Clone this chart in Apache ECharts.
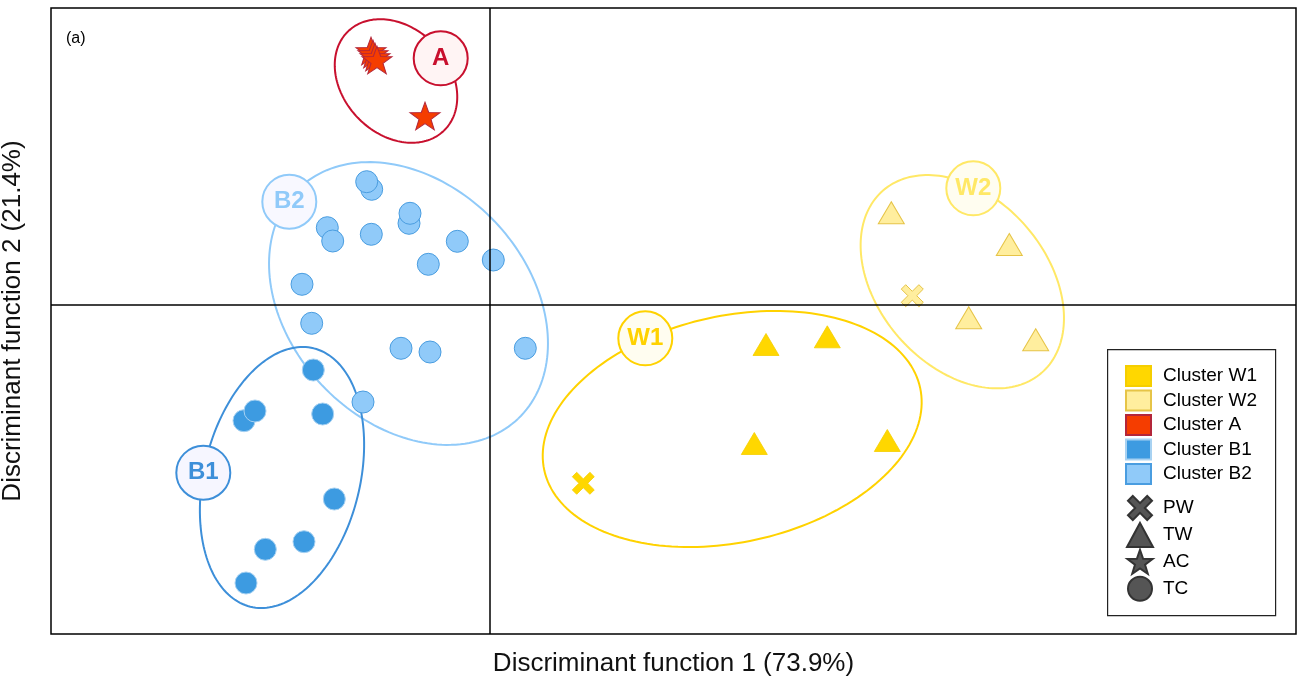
<!DOCTYPE html>
<html>
<head>
<meta charset="utf-8">
<script src="https://cdn.jsdelivr.net/npm/echarts@6/dist/echarts.min.js"></script>
<style>
html,body{margin:0;padding:0;background:#fff;}
#chart{width:1301px;height:678px;}
</style>
</head>
<body>
<div id="chart"></div>
<script>
// ---- data (x = discriminant function 1, y = discriminant function 2, shape) ----
const clusterW1 = [[2.76,-0.395,'TW'],[3.373,-0.318,'TW'],[2.643,-1.385,'TW'],[3.973,-1.355,'TW'],[0.933,-1.783,'PW']];
const clusterW2 = [[4.013,0.922,'TW'],[5.193,0.605,'TW'],[4.787,-0.128,'TW'],[5.457,-0.347,'TW'],[4.223,0.093,'PW']];
const clusterA  = [[-1.19,2.54,'AC'],[-1.17,2.51,'AC'],[-1.15,2.48,'AC'],[-1.13,2.45,'AC'],[-0.65,1.89,'AC']];
const clusterB1 = [[-1.767,-0.65,'TC'],[-2.46,-1.157,'TC'],[-2.35,-1.06,'TC'],[-1.673,-1.09,'TC'],[-1.557,-1.94,'TC'],[-1.86,-2.367,'TC'],[-2.247,-2.443,'TC'],[-2.44,-2.78,'TC']];
const clusterB2 = [[-1.183,1.157,'TC'],[-1.233,1.233,'TC'],[-1.627,0.773,'TC'],[-1.573,0.64,'TC'],[-1.187,0.707,'TC'],[-0.81,0.817,'TC'],[-0.80,0.917,'TC'],[-0.327,0.637,'TC'],[-0.617,0.407,'TC'],[0.033,0.45,'TC'],[-1.88,0.207,'TC'],[-1.783,-0.183,'TC'],[-0.89,-0.433,'TC'],[-0.60,-0.47,'TC'],[0.353,-0.433,'TC'],[-1.27,-0.97,'TC']];
// ellipses: centre x, centre y, semi-axis a, semi-axis b, rotation (deg)
const ellipseNames = ['A','B2','B1','W1','W2'];
const ellipseParams = [[-0.94,2.24,0.69,0.53,-46],[-0.815,0.015,1.59,1.19,-46.4],[-2.08,-1.725,1.33,0.78,76.2],[2.422,-1.24,1.924,1.132,12.4],[4.723,0.233,1.208,0.844,-49]];
const labelNames = ['A','B2','B1','W1','W2'];
const labelPositions = [[-0.493,2.467],[-2.007,1.033],[-2.867,-1.677],[1.553,-0.333],[4.833,1.167]];
const clusterNames = ['Cluster W1','Cluster W2','Cluster A','Cluster B1','Cluster B2'];
const shapeNames = ['PW','TW','AC','TC'];
const xTitle = 'Discriminant function 1 (73.9%)';
const yTitle = 'Discriminant function 2 (21.4%)';

// ---- styling ----
const FONT = '"Liberation Sans", Arial, sans-serif';
const STAR = 'path://M50,0 L61.76,33.82 L97.55,34.55 L69.02,56.18 L79.39,90.45 L50,70 L20.61,90.45 L30.98,56.18 L2.45,34.55 L38.24,33.82 Z';
const CROSS = 'path://M2,0 L5,3 L8,0 L10,2 L7,5 L10,8 L8,10 L5,7 L2,10 L0,8 L3,5 L0,2 Z';
const SHAPES = {
  PW: {symbol: CROSS, size: [22,22]},
  TW: {symbol: 'triangle', size: [26,22]},
  AC: {symbol: STAR, size: [30,29]},
  TC: {symbol: 'circle', size: 22}
};
const CLUSTER_STYLE = {
  'Cluster W1': {color:'#FFD700', borderColor:'#F5CE00', borderWidth:0.8, opacity:1},
  'Cluster W2': {color:'#FFEE9E', borderColor:'#E6C447', borderWidth:1, opacity:1},
  'Cluster A':  {color:'#F53D00', borderColor:'#B3263A', borderWidth:1, opacity:1},
  'Cluster B1': {color:'#3D9BE1', borderColor:'#A8D2F2', borderWidth:1, opacity:1},
  'Cluster B2': {color:'#90CAF9', borderColor:'#4A9DE0', borderWidth:1, opacity:1}
};
const ELLIPSE_COLOR = {A:'#C8102E', B2:'#90CAF9', B1:'#3D8FD9', W1:'#FFD200', W2:'#FFE866'};
const LABEL_STYLE = {
  A:  {fill:'#FFF4F4', stroke:'#C8102E', text:'#C8102E'},
  B2: {fill:'#F8F8FF', stroke:'#90CAF9', text:'#90CAF9'},
  B1: {fill:'#F6F6FF', stroke:'#3D8FD9', text:'#3D8FD9'},
  W1: {fill:'#FFFDF0', stroke:'#FFD200', text:'#FFD200'},
  W2: {fill:'#FFFDF0', stroke:'#FFE866', text:'#FFE866'}
};
const SHAPE_COLOR = {color:'#555555', borderColor:'#333333', borderWidth:1, opacity:1};

const chart = echarts.init(document.getElementById('chart'), null, {renderer:'canvas'});

const clusterData = {'Cluster W1':clusterW1,'Cluster W2':clusterW2,'Cluster A':clusterA,'Cluster B1':clusterB1,'Cluster B2':clusterB2};
const drawOrder = ['Cluster B1','Cluster B2','Cluster A','Cluster W1','Cluster W2'];

const series = [];
// zero lines
series.push({
  name:'zero', type:'scatter', data:[], z:1, silent:true,
  markLine:{silent:true, symbol:'none', label:{show:false}, animation:false,
    lineStyle:{color:'#000', width:1.5, type:'solid', opacity:1},
    data:[{xAxis:0},{yAxis:0}]}
});
// ellipses
series.push({
  name:'ellipses', type:'custom', z:2, silent:true,
  data: ellipseParams,
  renderItem: function(params, api){
    const cx = api.value(0), cy = api.value(1), a = api.value(2), b = api.value(3);
    const ang = api.value(4) * Math.PI / 180;
    const pts = [];
    for (let i = 0; i <= 180; i++) {
      const t = i / 180 * 2 * Math.PI;
      const x = cx + a*Math.cos(t)*Math.cos(ang) - b*Math.sin(t)*Math.sin(ang);
      const y = cy + a*Math.cos(t)*Math.sin(ang) + b*Math.sin(t)*Math.cos(ang);
      pts.push(api.coord([x, y]));
    }
    return {type:'polyline', shape:{points:pts}, style:{fill:null, stroke:ELLIPSE_COLOR[ellipseNames[params.dataIndex]], lineWidth:2}};
  }
});
// points
drawOrder.forEach(function(name){
  series.push({
    name:name, type:'scatter', z:4,
    data: clusterData[name],
    symbol: function(v){ return SHAPES[v[2]].symbol; },
    symbolSize: function(v){ return SHAPES[v[2]].size; },
    symbolKeepAspect: true,
    itemStyle: CLUSTER_STYLE[name],
    emphasis:{disabled:true}
  });
});
// shape-only legend series
shapeNames.forEach(function(s){
  series.push({name:s, type:'scatter', data:[], symbol:SHAPES[s].symbol, symbolKeepAspect:true, itemStyle:SHAPE_COLOR});
});
// cluster label bubbles
series.push({
  name:'labels', type:'scatter', z:5, silent:true,
  symbol:'circle', symbolSize:54,
  data: labelPositions.map(function(p,i){
    const st = LABEL_STYLE[labelNames[i]];
    return {value:p, name:labelNames[i],
      itemStyle:{color:st.fill, borderColor:st.stroke, borderWidth:2, opacity:1},
      label:{show:true, position:'inside', formatter:labelNames[i], color:st.text, fontSize:24, fontWeight:'bold', fontFamily:FONT}};
  })
});

const option = {
  animation:false,
  backgroundColor:'#fff',
  grid:{left:51, right:5, top:8, bottom:44, outerBoundsMode:'none', containLabel:false, show:true, borderColor:'#000', borderWidth:1.5, backgroundColor:'transparent'},
  xAxis:{type:'value', min:-4.39, max:8.06, axisLine:{show:false}, axisTick:{show:false}, axisLabel:{show:false}, splitLine:{show:false},
    name:xTitle, nameLocation:'middle', nameGap:17, nameTextStyle:{fontSize:26, color:'#111', fontFamily:FONT, verticalAlign:'top'}},
  yAxis:{type:'value', min:-3.29, max:2.97, axisLine:{show:false}, axisTick:{show:false}, axisLabel:{show:false}, splitLine:{show:false},
    name:yTitle, nameLocation:'middle', nameGap:25, nameTextStyle:{fontSize:26, color:'#111', fontFamily:FONT}},
  legend:[
    {data:clusterNames, orient:'vertical', left:1125, top:365, padding:0, itemWidth:25, itemHeight:20, itemGap:2.5, icon:'rect',
     selectedMode:false, z:100, textStyle:{fontSize:19, lineHeight:20, color:'#000', fontFamily:FONT, padding:[0,0,0,7]}},
    {data:[{name:'PW', icon:CROSS},{name:'TW', icon:'triangle'},{name:'AC', icon:STAR},{name:'TC', icon:'circle'}],
     orient:'vertical', left:1126, top:495, padding:0, itemWidth:26, itemHeight:24, itemGap:0.9,
     selectedMode:false, z:100, textStyle:{fontSize:19, lineHeight:20, color:'#000', fontFamily:FONT, padding:[0,0,0,5]}}
  ],
  graphic:[
    {type:'rect', left:1107, top:349, z:50, shape:{width:168, height:266}, style:{fill:'#fff', stroke:'#222', lineWidth:1.2}},
    {type:'text', left:66, top:31, z:50, style:{text:'(a)', fontSize:16, fill:'#000', fontFamily:FONT}}
  ],
  series: series
};
chart.setOption(option);
</script>
</body>
</html>
